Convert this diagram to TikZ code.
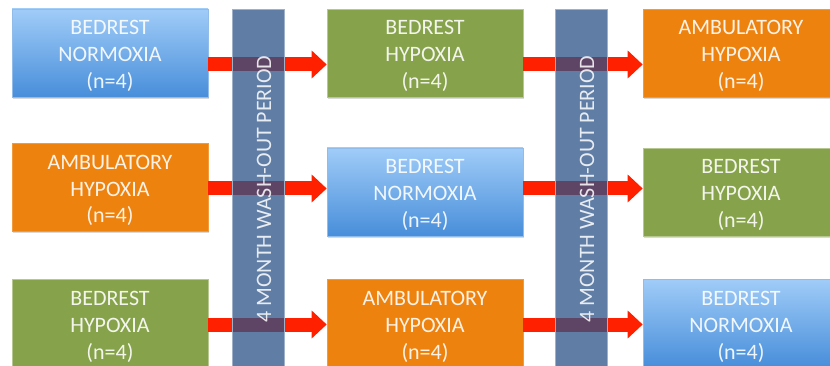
\documentclass[tikz,border=0pt]{standalone}
\usepackage{fontspec}
\setmainfont{Carlito}
\usetikzlibrary{arrows.meta,shadows}

\definecolor{normtop}{RGB}{160,204,248}
\definecolor{normbot}{RGB}{72,142,218}
\definecolor{hypgreen}{RGB}{134,162,74}
\definecolor{amborange}{RGB}{238,130,14}
\definecolor{washblue}{RGB}{41,81,135}
\definecolor{movered}{RGB}{255,32,0}

\tikzset{
  arm/.style={minimum width=196pt, minimum height=88pt, inner sep=0pt, align=center,
    font=\fontsize{22}{27}\selectfont, text=white, text opacity=0.9, line width=0.6pt,
    text height=72pt, text depth=0pt,
    drop shadow={shadow xshift=0.6pt, shadow yshift=-1.8pt, opacity=0.3}},
  bn/.style={arm, top color=normtop, bottom color=normbot, draw=normbot!60!white},
  bh/.style={arm, fill=hypgreen, draw=hypgreen!60!white},
  ah/.style={arm, fill=amborange, draw=amborange!80!white},
  washbar/.style={fill=washblue, fill opacity=0.75, draw=washblue!45!white, line width=0.6pt},
  washtext/.style={rotate=90, inner sep=0pt, font=\fontsize{22}{26}\selectfont,
    text=white, text opacity=0.85},
  move/.style={draw=movered, line width=14pt, -{Triangle[width=27pt,length=15pt]}}
}

\begin{document}
\begin{tikzpicture}[x=1pt, y=-1pt]
  \useasboundingbox (0,0) rectangle (830,366);
  \clip (0,0) rectangle (830,366);

  % first period
  \node[bn] (A) at (110,53) {BEDREST\\NORMOXIA\\(n=4)};
  \node[ah] (B) at (110,187) {AMBULATORY\\HYPOXIA\\(n=4)};
  \node[bh] (C) at (110,323) {BEDREST\\HYPOXIA\\(n=4)};
  % second period
  \node[bh] (D) at (425,53) {BEDREST\\HYPOXIA\\(n=4)};
  \node[bn] (E) at (425,192) {BEDREST\\NORMOXIA\\(n=4)};
  \node[ah] (F) at (425,323) {AMBULATORY\\HYPOXIA\\(n=4)};
  % third period
  \node[ah] (G) at (741,53) {AMBULATORY\\HYPOXIA\\(n=4)};
  \node[bh] (H) at (741,192) {BEDREST\\HYPOXIA\\(n=4)};
  \node[bn] (I) at (741,323) {BEDREST\\NORMOXIA\\(n=4)};

  \coordinate (b2) at ([yshift=-1.5pt]B.east);
  \draw[move] ([yshift=-11.5pt]A.east) -- ([yshift=-11.5pt]D.west);
  \draw[move] (b2) -- (b2 -| E.west);
  \draw[move] ([yshift=-1.5pt]C.east) -- ([yshift=-1.5pt]F.west);
  \draw[move] ([yshift=-11.5pt]D.east) -- ([yshift=-11.5pt]G.west);
  \draw[move] ([yshift=3.5pt]E.east) -- ([yshift=3.5pt]H.west);
  \draw[move] ([yshift=-1.5pt]F.east) -- ([yshift=-1.5pt]I.west);

  % wash-out bars
  \draw[washbar] (232,9) rectangle (284,372);
  \draw[washbar] (555,9) rectangle (607,372);
  \node[washtext] (W1) at (264,189) {4 MONTH WASH-OUT PERIOD};
  \node[washtext] (W2) at (587,189) {4 MONTH WASH-OUT PERIOD};
\end{tikzpicture}
\end{document}
